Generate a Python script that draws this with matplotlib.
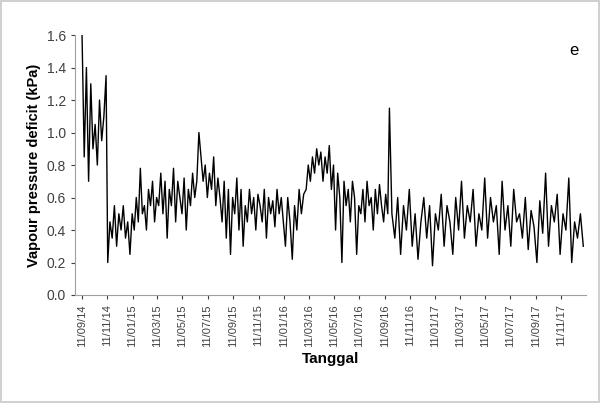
import matplotlib
matplotlib.use("Agg")
import matplotlib.pyplot as plt
import pandas as pd
import numpy as np

seg_bounds = [("2014-09-11", "2014-11-08"), ("2014-11-12", "2015-01-10"), ("2015-01-15", "2015-03-10"),
              ("2015-03-15", "2015-06-10"), ("2015-06-15", "2015-08-10"), ("2015-08-15", "2015-10-10"),
              ("2015-10-15", "2016-01-10"), ("2016-01-15", "2016-02-28"), ("2016-03-05", "2016-05-10"),
              ("2016-05-15", "2016-07-10"), ("2016-07-15", "2016-09-18"), ("2016-09-22", "2016-09-22"),
              ("2016-09-28", "2018-01-03")]
seg_values = [
    [1.60,0.85,1.40,0.70,1.30,0.90,1.05,0.80,1.20,0.95,1.10,1.35],
    [0.20,0.45,0.35,0.55,0.30,0.50,0.40,0.55,0.35,0.45,0.25,0.50],
    [0.40,0.60,0.45,0.78,0.50,0.55,0.40,0.65,0.55,0.70,0.45,0.60],
    [0.55,0.75,0.50,0.70,0.35,0.65,0.55,0.78,0.45,0.70,0.60,0.50,0.72,0.40,0.65,0.55,0.75,0.60],
    [0.70,1.00,0.85,0.70,0.80,0.60,0.75,0.65,0.85,0.55,0.72,0.60],
    [0.45,0.70,0.35,0.65,0.25,0.60,0.50,0.72,0.40,0.65,0.30,0.55],
    [0.45,0.65,0.50,0.60,0.40,0.62,0.55,0.45,0.65,0.35,0.60,0.50,0.58,0.42,0.65,0.50,0.60,0.45],
    [0.30,0.60,0.45,0.22,0.55,0.40,0.65,0.50,0.62],
    [0.65,0.80,0.70,0.85,0.75,0.90,0.80,0.88,0.70,0.85,0.75,0.92,0.65,0.80],
    [0.40,0.75,0.60,0.20,0.70,0.55,0.65,0.45,0.70,0.60,0.25,0.55],
    [0.50,0.65,0.45,0.70,0.55,0.60,0.40,0.65,0.50,0.68,0.55,0.45,0.62,0.50],
    [1.15],
    [0.50,0.35,0.60,0.25,0.55,0.40,0.65,0.30,0.50,0.22,0.45,0.60,0.35,0.55,0.18,0.50,0.40,0.62,
     0.30,0.55,0.45,0.25,0.60,0.40,0.70,0.35,0.55,0.45,0.65,0.30,0.50,0.40,0.72,0.35,0.60,0.45,
     0.55,0.25,0.70,0.40,0.55,0.30,0.65,0.45,0.50,0.35,0.60,0.28,0.52,0.42,0.20,0.58,0.38,0.75,
     0.30,0.55,0.45,0.62,0.25,0.50,0.40,0.72,0.20,0.45,0.35,0.50,0.30],
]
dates, vpd = [], []
for (a, b), vals in zip(seg_bounds, seg_values):
    ta, tb = pd.Timestamp(a), pd.Timestamp(b)
    dates += list(pd.to_datetime(np.linspace(ta.value, tb.value, len(vals))))
    vpd += vals

tick_dates = [pd.Timestamp("2014-09-11") + pd.DateOffset(months=2 * i) for i in range(20)]
tick_labels = [d.strftime("%d/%m/%y") for d in tick_dates]

plt.rcParams['font.family'] = ['Liberation Sans', 'DejaVu Sans']
fig = plt.figure(figsize=(6, 4.03), dpi=100)
fig.patch.set_edgecolor('#d0d0d0'); fig.patch.set_linewidth(1.5)
ax = fig.add_axes([0.125, 0.268, 0.852, 0.645])
ax.plot(dates, vpd, color='black', lw=1.0)
ax.set_ylim(0, 1.6)
yt = np.arange(0, 1.61, 0.2)
ax.set_yticks(yt)
ax.set_yticklabels([f"{v:.1f}" for v in yt], fontsize=10)
ax.set_xlim(pd.Timestamp("2014-08-25"), pd.Timestamp("2018-01-10"))
ax.set_xticks(tick_dates)
ax.set_xticklabels(tick_labels, rotation=90, fontsize=8)
for s in ['top', 'right']:
    ax.spines[s].set_visible(False)
for s in ['left', 'bottom']:
    ax.spines[s].set_color('#a0a0a0')
ax.tick_params(colors='#404040', length=3)
ax.set_ylabel("Vapour pressure deficit (kPa)", fontsize=10.5, fontweight='bold')
ax.set_xlabel("Tanggal", fontsize=11, fontweight='bold')
ax.text(0.985, 0.97, "e", transform=ax.transAxes, ha='right', va='top', fontsize=12)
fig.savefig("out.png", dpi=100, edgecolor=fig.get_edgecolor())
